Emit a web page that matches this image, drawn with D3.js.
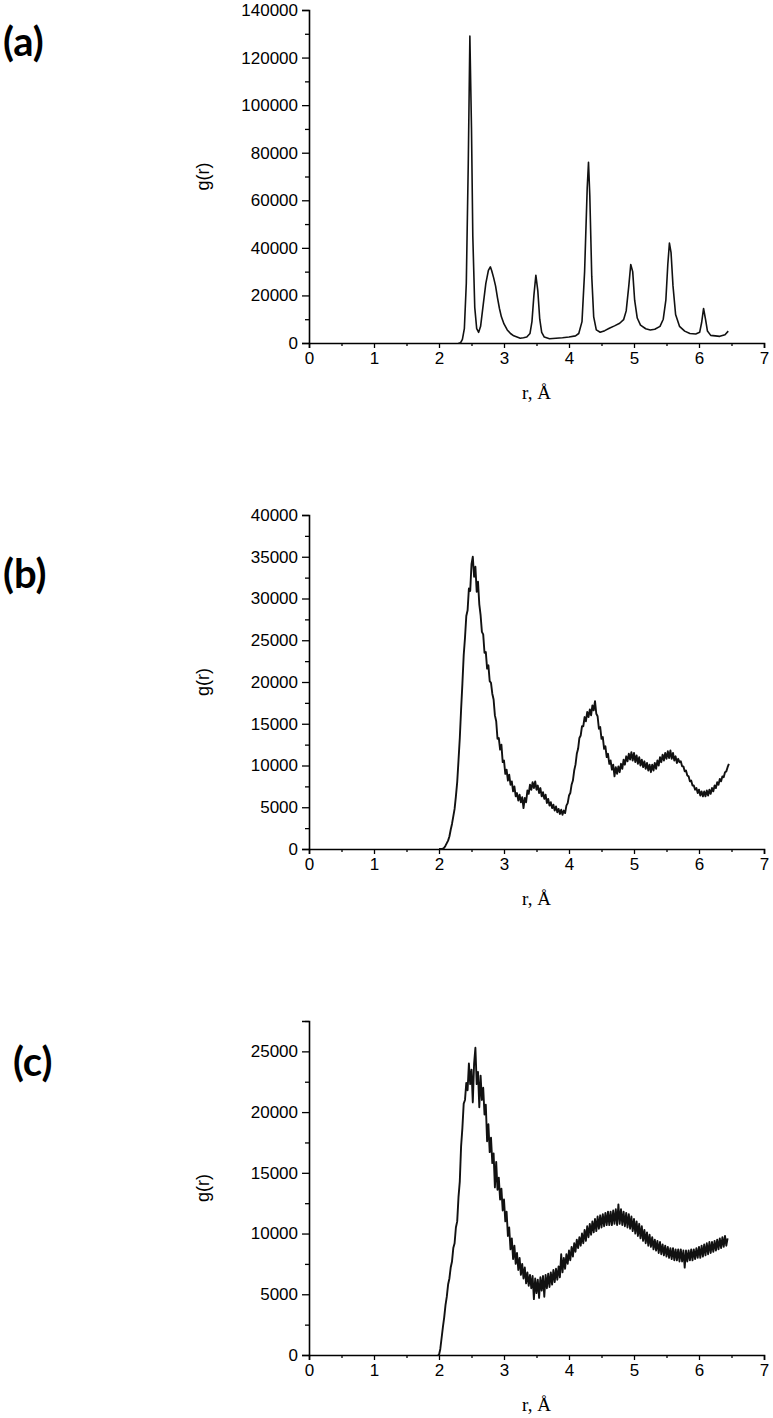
<!DOCTYPE html>
<html>
<head>
<meta charset="utf-8">
<script src="https://cdn.jsdelivr.net/npm/d3@7"></script>
<style>
  body { margin: 0; background: #fff; }
  svg text { fill: #000; }
</style>
</head>
<body>
<div id="chart"></div>
<script>
// x axis, shared by all three panels
const xTicks = [0, 1, 2, 3, 4, 5, 6, 7]
const xMinor = [0.5, 1.5, 2.5, 3.5, 4.5, 5.5, 6.5]

// panel (a): crystalline, sharp peaks
const rA = [2.30, 2.33, 2.36, 2.39, 2.42, 2.45, 2.475, 2.50, 2.52, 2.55, 2.58, 2.61, 2.64, 2.68, 2.72, 2.76, 2.79, 2.81,
  2.84, 2.87, 2.90, 2.93, 2.96, 3.00, 3.05, 3.10, 3.15, 3.20, 3.25, 3.30, 3.35, 3.40, 3.43, 3.46, 3.49, 3.52, 3.55, 3.58,
  3.62, 3.70, 3.80, 3.90, 4.00, 4.10, 4.15, 4.20, 4.24, 4.28, 4.30, 4.32, 4.35, 4.38, 4.42, 4.48, 4.55, 4.62, 4.70, 4.78,
  4.84, 4.88, 4.92, 4.95, 4.98, 5.01, 5.05, 5.10, 5.18, 5.25, 5.32, 5.40, 5.45, 5.49, 5.52, 5.545, 5.57, 5.60, 5.64, 5.70,
  5.78, 5.86, 5.95, 6.01, 6.04, 6.07, 6.10, 6.13, 6.18, 6.25, 6.32, 6.40, 6.45]
const gA = [0, 0, 1500, 6000, 25000, 75000, 129000, 90000, 45000, 15000, 6000, 4500, 7000, 16000, 25000, 30500, 32000, 30500,
  27500, 24000, 19000, 14500, 11000, 8000, 5500, 4000, 3000, 2500, 2000, 2200, 2500, 4000, 9000, 20000, 28500, 22000, 10000, 4500,
  2500, 1800, 2000, 2200, 2500, 3000, 4000, 9000, 30000, 65000, 76000, 62000, 28000, 11000, 5500, 4500, 5200, 6200, 7200, 8300,
  9800, 13500, 24000, 33000, 30000, 18000, 10500, 7500, 6000, 5500, 5800, 7000, 10000, 18000, 33000, 42000, 38000, 24000, 12000, 7000,
  5000, 4000, 3800, 4500, 8500, 14500, 10000, 5000, 3200, 3000, 2800, 3500, 5000]

// panel (b): sampled every 0.02 Å from 2.00
const rStartB = 2.00
const gB = [0, 0, 0, 50, 150, 400, 700, 1000, 1500, 2300, 3000, 3900, 4800, 6300, 8000, 10600, 13300, 16700, 19800, 23200,
  25300, 27900, 28600, 31200, 30900, 34100, 35000, 32600, 33800, 30800, 32000, 29300, 28000, 26000, 25700, 23500, 23600, 21600, 22000, 20100,
  19900, 18600, 17900, 16000, 15300, 13200, 13300, 11900, 12500, 10400, 10600, 9000, 9500, 8200, 8900, 7700, 8100, 6900, 7500, 6300,
  6700, 5800, 6500, 5600, 6200, 4900, 6100, 5600, 7000, 6600, 7700, 7100, 8000, 7300, 8100, 7100, 7600, 6700, 7300, 6300,
  6800, 6000, 6500, 5500, 6000, 5200, 5600, 4900, 5300, 4600, 5100, 4400, 4800, 4200, 4700, 4100, 4600, 4300, 5200, 5500,
  6400, 6700, 7700, 8200, 9400, 10100, 11400, 12000, 13300, 13600, 14700, 14700, 15800, 15300, 16400, 15800, 16700, 16000, 17200, 16600,
  17700, 16200, 15900, 14400, 14600, 13200, 13400, 12000, 12300, 11000, 11400, 10200, 10600, 9500, 10100, 8700, 9800, 9000, 9900, 9200,
  10200, 9600, 10700, 10100, 11100, 10500, 11400, 10700, 11600, 10600, 11500, 10400, 11200, 10200, 11000, 10000, 10700, 9800, 10500, 9600,
  10300, 9400, 10100, 9200, 10100, 9400, 10300, 9600, 10600, 10000, 11000, 10400, 11300, 10600, 11500, 10800, 11700, 10900, 11800, 10800,
  11500, 10600, 11100, 10300, 10800, 10400, 10500, 9900, 9900, 9300, 9400, 8800, 8700, 8100, 8200, 7600, 7600, 7100, 7300, 6700,
  7100, 6400, 6900, 6300, 6900, 6300, 7000, 6400, 7100, 6600, 7300, 6900, 7600, 7300, 8000, 7700, 8400, 8100, 8700, 8600,
  9200, 9300, 9800, 10200]

// panel (c): sampled every 0.02 Å from 1.98
const rStartC = 1.98
const gC = [0, 0, 500, 1400, 2300, 3100, 4100, 4800, 5800, 6300, 7200, 7700, 8800, 9200, 10500, 11000, 13000, 14300, 17200, 18700,
  20700, 21000, 22400, 21800, 24000, 22300, 23500, 20800, 24000, 25300, 22300, 23300, 20400, 23000, 21000, 22000, 19800, 20600, 17600, 19000,
  16700, 17900, 15800, 16600, 13800, 15900, 13600, 14600, 12800, 13700, 11900, 12800, 11000, 11800, 9800, 10500, 8700, 9600, 7900, 9000,
  7500, 8400, 7000, 8000, 6600, 7500, 6300, 7200, 5900, 6800, 5700, 6600, 5500, 6500, 4600, 6300, 5100, 6200, 4700, 6400,
  5300, 6500, 4800, 6600, 5500, 6700, 5600, 6800, 5800, 7000, 6000, 7100, 6200, 7300, 6400, 8300, 6800, 8000, 7100, 8300,
  7500, 8600, 7800, 8900, 8100, 9200, 8500, 9500, 8800, 9700, 9000, 10000, 9200, 10300, 9400, 10600, 9700, 10800, 9900, 11000,
  10100, 11200, 10200, 11400, 10400, 11500, 10500, 11600, 10600, 11700, 10700, 11800, 10700, 11800, 10700, 11900, 10800, 12000, 10700, 12400,
  10800, 12000, 10700, 11800, 10600, 11700, 10500, 11600, 10400, 11400, 10200, 11200, 10000, 11000, 9800, 10800, 9600, 10600, 9400, 10300,
  9200, 10100, 9000, 9900, 8900, 9700, 8700, 9500, 8600, 9400, 8400, 9300, 8300, 9100, 8200, 9000, 8100, 8900, 8000, 8800,
  7900, 8800, 7800, 8700, 7800, 8700, 7700, 8700, 7700, 8600, 7200, 8600, 7700, 8600, 7800, 8700, 7800, 8700, 7900, 8800,
  8000, 8900, 8000, 9000, 8100, 9100, 8200, 9200, 8300, 9300, 8400, 9300, 8500, 9400, 8600, 9500, 8700, 9600, 8800, 9700,
  8900, 9800, 9000, 9600]

// y ticks per panel
const yTicksA = [0, 20000, 40000, 60000, 80000, 100000, 120000, 140000]
const yMinorA = [10000, 30000, 50000, 70000, 90000, 110000, 130000]
const yTicksB = [0, 5000, 10000, 15000, 20000, 25000, 30000, 35000, 40000]
const yMinorB = [2500, 7500, 12500, 17500, 22500, 27500, 32500, 37500]
const yTicksC = [0, 5000, 10000, 15000, 20000, 25000]
const yMinorC = [2500, 7500, 12500, 17500, 22500, 27500]

const toPoints = (rs, gs) => gs.map((g, i) => ({ r: rs[i], g: g }))
const gridPoints = (r0, gs) => gs.map((g, i) => ({ r: +(r0 + i * 0.02).toFixed(2), g: g }))

const panels = [
  { label: '(a)', lx: 3, ly: 56, top: 10, bottom: 343, yMax: 140000, yTicks: yTicksA, yMinor: yMinorA, pts: toPoints(rA, gA), sw: 1.6 },
  { label: '(b)', lx: 3, ly: 588, top: 515, bottom: 849, yMax: 40000, yTicks: yTicksB, yMinor: yMinorB, pts: gridPoints(rStartB, gB), sw: 1.9 },
  { label: '(c)', lx: 13, ly: 1076, top: 1021, bottom: 1355, yMax: 27500, yTicks: yTicksC, yMinor: yMinorC, pts: gridPoints(rStartC, gC), sw: 1.9 }
]

const svg = d3.select('#chart').append('svg')
  .attr('width', 773)
  .attr('height', 1418)

const xScale = d3.scaleLinear().domain([0, 7]).range([309, 764])

panels.forEach(p => {
  const g = svg.append('g')
  const yScale = d3.scaleLinear().domain([0, p.yMax]).range([p.bottom, p.top])

  // x axis: major and minor ticks
  const xAxisG = g.append('g').attr('transform', `translate(0, ${p.bottom})`)
  xAxisG.call(d3.axisBottom(xScale).tickValues(xTicks).tickFormat(d3.format('d')).tickSize(5).tickPadding(4))
  const xMinorG = g.append('g').attr('transform', `translate(0, ${p.bottom})`)
  xMinorG.call(d3.axisBottom(xScale).tickValues(xMinor).tickFormat('').tickSize(3))
  xMinorG.select('.domain').remove()

  // y axis
  const yAxisG = g.append('g').attr('transform', `translate(${xScale(0)}, 0)`)
  yAxisG.call(d3.axisLeft(yScale).tickValues(p.yTicks).tickFormat(d3.format('d')).tickSize(7).tickPadding(4))
  const yMinorG = g.append('g').attr('transform', `translate(${xScale(0)}, 0)`)
  yMinorG.call(d3.axisLeft(yScale).tickValues(p.yMinor).tickFormat('').tickSize(4))
  yMinorG.select('.domain').remove()

  g.selectAll('.domain').attr('stroke', '#000').attr('stroke-width', 1.6)
  g.selectAll('.tick line').attr('stroke', '#000').attr('stroke-width', 1.3)
  g.selectAll('.tick text')
    .attr('font-family', '"Liberation Sans", Arial, sans-serif')
    .attr('font-size', 17)
    .attr('fill', '#000')

  // curve
  const line = d3.line()
    .x(d => xScale(d.r))
    .y(d => yScale(d.g))
  g.append('path')
    .datum(p.pts)
    .attr('fill', 'none')
    .attr('stroke', '#111')
    .attr('stroke-width', p.sw)
    .attr('stroke-linejoin', 'round')
    .attr('d', line)

  // axis titles
  g.append('text')
    .attr('x', (xScale(0) + xScale(7)) / 2)
    .attr('y', p.bottom + 56)
    .attr('text-anchor', 'middle')
    .attr('font-family', '"Liberation Serif", "Times New Roman", serif')
    .attr('font-size', 19)
    .text('r, Å')

  g.append('text')
    .attr('transform', `translate(209, ${(p.top + p.bottom) / 2}) rotate(-90)`)
    .attr('text-anchor', 'middle')
    .attr('font-family', '"Liberation Sans", Arial, sans-serif')
    .attr('font-size', 18)
    .text('g(r)')

  // panel label
  g.append('text')
    .attr('x', p.lx)
    .attr('y', p.ly)
    .attr('font-family', 'Lato, "Open Sans", sans-serif')
    .attr('font-weight', 'bold')
    .attr('font-size', 40)
    .text(p.label)
})
</script>
</body>
</html>
